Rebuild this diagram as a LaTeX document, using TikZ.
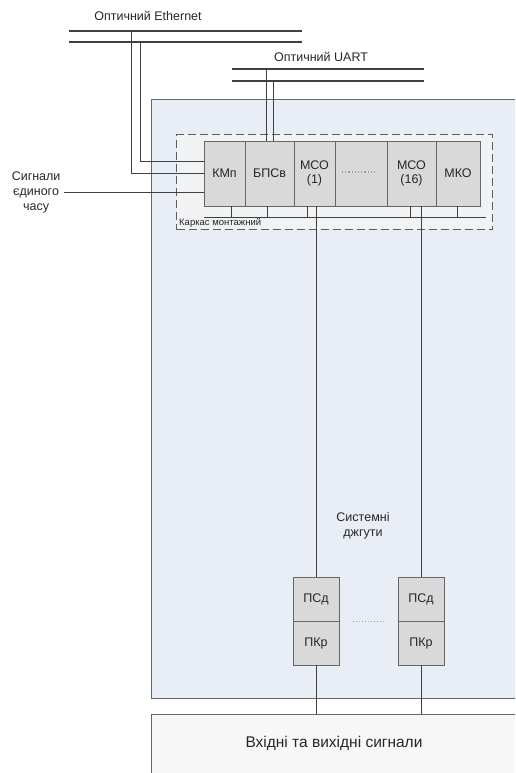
\documentclass[tikz,border=0pt]{standalone}
\usepackage{fontspec}
\setmainfont{Liberation Sans}
\usetikzlibrary{positioning}
\definecolor{cabinetblue}{HTML}{E9EEF6}
\definecolor{framegray}{HTML}{F1F2F4}
\definecolor{blockgray}{HTML}{D9D9D9}
\definecolor{iogray}{HTML}{F7F7F7}
\definecolor{linegray}{HTML}{404040}
\definecolor{textgray}{HTML}{262626}
\begin{document}
\begin{tikzpicture}[x=1pt, y=-1pt, node distance=0pt]
        \tikzstyle{module} = [rectangle, draw=linegray!80, fill=blockgray, minimum height=65pt, outer sep=0pt, inner sep=0pt, align=center, font=\fontsize{12.5}{14}\selectfont, text=textgray]
        \tikzstyle{harness} = [module, minimum width=46pt, minimum height=44pt]
        \tikzstyle{label} = [align=center, text=textgray, font=\fontsize{12.5}{15}\selectfont]
        \tikzstyle{bus} = [draw=linegray, line width=1.1pt]
        \tikzstyle{wire} = [draw=linegray, line width=0.9pt]

        \clip (0,0) rectangle (515,773);

        \node (cabinet) [rectangle, draw=linegray!80, line width=1pt, fill=cabinetblue, anchor=north west, minimum width=500pt, minimum height=599pt] at (151,99) {};
        \node (io) [rectangle, draw=linegray!80, line width=1pt, fill=iogray, anchor=north west, minimum width=500pt, minimum height=120pt] at (151,714) {};
        \node (iolabel) [label, font=\fontsize{15.5}{18}\selectfont] at (334,743) {Вхідні та вихідні сигнали};

        \node (frame) [rectangle, draw=linegray!85, line width=1.1pt, dash pattern=on 8pt off 4pt, fill=framegray, anchor=north west, minimum width=316pt, minimum height=95pt] at (176,134) {};
        \node (framelabel) [label, anchor=west, inner sep=1pt, font=\fontsize{9.5}{11}\selectfont] at (178,223) {Каркас монтажний};

        \node (kmp) [module, minimum width=41pt, anchor=north west] at (204,141) {КМп};
        \node (bpsv) [module, minimum width=49pt, right=of kmp] {БПСв};
        \node (mso1) [module, minimum width=41pt, right=of bpsv] {МСО\\(1)};
        \node (blank) [module, minimum width=52pt, right=of mso1] {};
        \node (mso16) [module, minimum width=49pt, right=of blank] {МСО\\(16)};
        \node (mko) [module, minimum width=44pt, right=of mso16] {МКО};
        \draw[linegray!50, line width=1.2pt, dotted] ([xshift=-19pt, yshift=1.5pt]blank.center) -- ([xshift=14pt, yshift=1.5pt]blank.center);

        \coordinate (backw) at (204,217);
        \coordinate (backe) at (486,217);
        \draw[wire] (backw) -- (backe);
        \draw[wire] ([xshift=6.5pt]kmp.south) -- ++(0,11);
        \draw[wire] ([xshift=-2.5pt]bpsv.south) -- ++(0,11);
        \draw[wire] ([xshift=-7.5pt]mso1.south) -- ++(0,11);
        \draw[wire] ([xshift=-1.5pt]mso16.south) -- ++(0,11);
        \draw[wire] ([xshift=-1pt]mko.south) -- ++(0,11);

        \node (eth) [label] at (148,16) {Оптичний Ethernet};
        \node (uart) [label] at (321,57) {Оптичний UART};
        \draw[bus] (69,31) -- (302,31);
        \draw[bus] (69,42) -- (302,42);
        \draw[bus] (232,69) -- (424,69);
        \draw[bus] (232,81) -- (424,81);
        \coordinate (ethA) at (131,31);
        \coordinate (ethB) at (140,42);
        \coordinate (uartA) at (266,69);
        \coordinate (uartB) at (273,81);
        \draw[wire] (ethA) |- (kmp.west);
        \draw[wire] (ethB) |- ([yshift=12.5pt]kmp.west);
        \draw[wire] (uartA) -- (uartA |- bpsv.north);
        \draw[wire] (uartB) -- (uartB |- bpsv.north);

        \node (sync) [label, anchor=east] at (64,192) {Сигнали\\єдиного\\часу};
        \draw[wire] (sync.east) -- (sync.east -| kmp.west);

        \node (psd1) [harness, anchor=north] at (316,577) {ПСд};
        \node (pkr1) [harness, below=of psd1] {ПКр};
        \node (psd2) [harness, anchor=north] at (421,577) {ПСд};
        \node (pkr2) [harness, below=of psd2] {ПКр};
        \draw[linegray!50, line width=1pt, dotted] ([xshift=14pt]pkr1.north east) -- ([xshift=-13pt]pkr2.north west);

        \draw[wire] (psd1.north |- mso1.south) -- (psd1.north);
        \draw[wire] (psd2.north |- mso16.south) -- (psd2.north);
        \draw[wire] (pkr1.south) -- (pkr1.south |- io.north);
        \draw[wire] (pkr2.south) -- (pkr2.south |- io.north);

        \node (harnesses) [label] at (363,526) {Системні\\джгути};
    \end{tikzpicture}
\end{document}
